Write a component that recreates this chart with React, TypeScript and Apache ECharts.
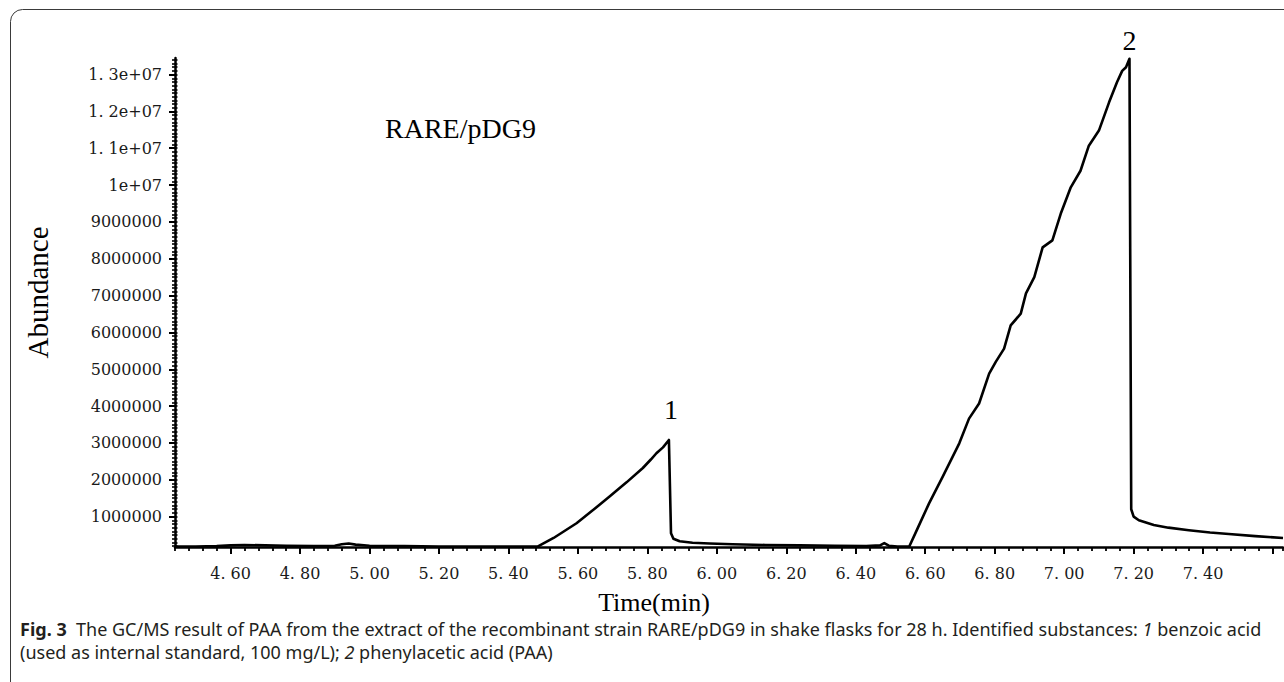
import React, { useEffect, useRef } from "react";
import * as echarts from "echarts";

// ---- data ----
const timeMin = [
  4.44, 4.5, 4.56, 4.6, 4.64, 4.7, 4.76, 4.84, 4.9, 4.92, 4.94, 4.96, 5.0, 5.1, 5.2, 5.3, 5.4,
  5.485, 5.53, 5.596, 5.64, 5.692, 5.74, 5.787, 5.81, 5.826, 5.845, 5.862,
  5.868, 5.875, 5.893, 5.93, 5.979, 6.045, 6.14, 6.238, 6.34, 6.43, 6.47, 6.482, 6.495, 6.52, 6.554,
  6.578, 6.611, 6.65, 6.698, 6.726, 6.755, 6.784, 6.803, 6.827, 6.846, 6.875, 6.89, 6.914, 6.938,
  6.966, 6.99, 7.019, 7.047, 7.071, 7.1, 7.129, 7.152, 7.167, 7.178, 7.188,
  7.193, 7.2, 7.215, 7.258, 7.3, 7.359, 7.42, 7.474, 7.55, 7.63,
];
const abundance = [
  190000, 190000, 200000, 220000, 230000, 220000, 210000, 200000, 210000, 250000, 270000, 240000, 210000, 200000, 190000, 190000, 190000,
  190000, 420000, 820000, 1150000, 1550000, 1930000, 2320000, 2550000, 2720000, 2880000, 3080000,
  550000, 400000, 330000, 290000, 270000, 250000, 230000, 220000, 210000, 200000, 220000, 280000, 210000, 190000, 190000,
  680000, 1360000, 2080000, 2990000, 3660000, 4070000, 4880000, 5200000, 5560000, 6190000, 6510000, 7060000, 7500000, 8310000,
  8500000, 9220000, 9940000, 10390000, 11070000, 11480000, 12240000, 12790000, 13100000, 13200000, 13430000,
  1200000, 1000000, 900000, 770000, 700000, 630000, 570000, 530000, 470000, 420000,
];

const peakTimes = [5.862, 7.188];
const peakValues = [3080000, 13430000];
const peakLabels = ["1", "2"];

const xTickValues = [4.6, 4.8, 5.0, 5.2, 5.4, 5.6, 5.8, 6.0, 6.2, 6.4, 6.6, 6.8, 7.0, 7.2, 7.4];
const xTickLabels = ["4. 60", "4. 80", "5. 00", "5. 20", "5. 40", "5. 60", "5. 80", "6. 00", "6. 20", "6. 40", "6. 60", "6. 80", "7. 00", "7. 20", "7. 40"];
const xMajorTicks = [4.6, 4.8, 5.0, 5.2, 5.4, 5.6, 5.8, 6.0, 6.2, 6.4, 6.6, 6.8, 7.0, 7.2, 7.4, 7.6];

const yTickValues = [1000000, 2000000, 3000000, 4000000, 5000000, 6000000, 7000000, 8000000, 9000000, 10000000, 11000000, 12000000, 13000000];
const yTickLabels = ["1000000", "2000000", "3000000", "4000000", "5000000", "6000000", "7000000", "8000000", "9000000", "1e+07", "1. 1e+07", "1. 2e+07", "1. 3e+07"];

const X_MIN = 4.44;
const X_MAX = 7.63;
const Y_MIN = 175000;
const Y_MAX = 13450000;

const yMinorTicks: number[] = [];
for (let v = 200000; v <= 13400000; v += 100000) yMinorTicks.push(v);

const SERIF = "'Liberation Serif', 'Times New Roman', serif";
const TICKFONT = "'DejaVu Serif', serif";
const CAPFONT = "'Noto Sans', 'Open Sans', sans-serif";
const CAPSIZE = 18;

export default function App() {
  const ref = useRef<HTMLDivElement>(null);
  useEffect(() => {
    if (!ref.current) return;
    const chart = echarts.init(ref.current, undefined, { renderer: "svg" });
    const trace = timeMin.map((t, i) => [t, abundance[i]]);
    const xLabelOf = (v: number) => {
      const i = xTickValues.findIndex((x) => Math.abs(x - v) < 1e-6);
      return i >= 0 ? xTickLabels[i] : "";
    };
    const yLabelOf = (v: number) => {
      const i = yTickValues.findIndex((y) => Math.abs(y - v) < 1);
      return i >= 0 ? yTickLabels[i] : "";
    };
    const option: any = {
      animation: false,
      backgroundColor: "#fff",
      grid: { left: 175, right: 1, top: 58, bottom: 135, containLabel: false },
      xAxis: [
        {
          type: "value",
          min: X_MIN,
          max: X_MAX,
          position: "bottom",
          name: "Time(min)",
          nameLocation: "middle",
          nameGap: 44,
          nameTextStyle: { fontFamily: SERIF, fontSize: 26, lineHeight: 22, color: "#000", padding: [0, 150, 0, 0] },
          axisLine: { show: true, lineStyle: { color: "#000", width: 2.5 } },
          axisTick: { show: true, customValues: xMajorTicks, length: 7, lineStyle: { color: "#000", width: 2 } },
          axisLabel: {
            show: true,
            customValues: xTickValues,
            formatter: (v: number) => xLabelOf(v),
            margin: 18,
            fontFamily: TICKFONT,
            fontSize: 16,
            color: "#1a1a1a",
          },
          splitLine: { show: false },
        },
        {
          type: "value",
          min: X_MIN,
          max: X_MAX,
          interval: 0.04,
          position: "bottom",
          offset: 0,
          axisLine: { show: false },
          axisTick: { show: true, length: 4, lineStyle: { color: "#000", width: 1.8 } },
          axisLabel: { show: false },
          splitLine: { show: false },
        },
      ],
      yAxis: [
        {
          type: "value",
          min: Y_MIN,
          max: Y_MAX,
          position: "left",
          name: "Abundance",
          nameLocation: "middle",
          nameGap: 123,
          nameTextStyle: { fontFamily: SERIF, fontSize: 29, color: "#000", padding: [0, 0, 0, 20] },
          axisLine: { show: true, lineStyle: { color: "#000", width: 2.5 } },
          axisTick: { show: true, customValues: yTickValues, length: 6, lineStyle: { color: "#000", width: 2 } },
          axisLabel: {
            show: true,
            customValues: yTickValues,
            formatter: (v: number) => yLabelOf(v),
            margin: 13,
            fontFamily: TICKFONT,
            fontSize: 16,
            color: "#1a1a1a",
          },
          splitLine: { show: false },
        },
        {
          type: "value",
          min: Y_MIN,
          max: Y_MAX,
          position: "left",
          offset: 0,
          axisLine: { show: false },
          axisTick: { show: true, customValues: yMinorTicks, length: 3, lineStyle: { color: "#000", width: 1.6 } },
          axisLabel: { show: false },
          splitLine: { show: false },
        },
        {
          type: "value",
          min: Y_MIN,
          max: Y_MAX,
          position: "left",
          offset: 0,
          axisLine: { show: false },
          axisTick: { show: true, inside: true, customValues: yMinorTicks, length: 2.5, lineStyle: { color: "#000", width: 1.6 } },
          axisLabel: { show: false },
          splitLine: { show: false },
        },
      ],
      series: [
        {
          type: "line",
          xAxisIndex: 0,
          yAxisIndex: 0,
          data: trace,
          showSymbol: false,
          symbol: "none",
          smooth: false,
          lineStyle: { color: "#000", width: 2.6, join: "round" },
          clip: false,
          markPoint: {
            symbol: "circle",
            symbolSize: 0,
            data: peakTimes.map((t, i) => ({
              coord: [t, peakValues[i]],
              value: peakLabels[i],
              label: { distance: i === 0 ? 16 : 4, offset: i === 0 ? [2, 0] : [0, 0] },
            })),
            label: {
              show: true,
              position: "top",
              formatter: (p: any) => p.value,
              fontFamily: SERIF,
              fontSize: 28,
              color: "#000",
            },
          },
        },
      ],
      graphic: [
        {
          type: "rect",
          z: -1,
          shape: { x: 10.5, y: 9.5, width: 1300, height: 700, r: 12 },
          style: { fill: "none", stroke: "#3a3a3a", lineWidth: 1 },
        },
        {
          type: "text",
          x: 385,
          y: 128,
          style: { text: "RARE/pDG9", fontFamily: SERIF, fontSize: 28, fill: "#000", verticalAlign: "middle" },
        },
        {
          type: "text",
          x: 20,
          y: 629,
          style: {
            text: "{b|Fig. 3}  The GC/MS result of PAA from the extract of the recombinant strain RARE/pDG9 in shake flasks for 28 h. Identified substances: {i|1} benzoic acid",
            fontFamily: CAPFONT,
            fontSize: CAPSIZE,
            lineHeight: 18,
            fill: "#231f20",
            verticalAlign: "middle",
            rich: {
              b: { fontFamily: CAPFONT, fontSize: CAPSIZE, lineHeight: 18, fontWeight: "bold", fill: "#231f20" },
              i: { fontFamily: CAPFONT, fontSize: CAPSIZE, lineHeight: 18, fontStyle: "italic", fill: "#231f20" },
            },
          },
        },
        {
          type: "text",
          x: 20,
          y: 652,
          style: {
            text: "(used as internal standard, 100 mg/L); {i|2} phenylacetic acid (PAA)",
            fontFamily: CAPFONT,
            fontSize: CAPSIZE,
            lineHeight: 18,
            fill: "#231f20",
            verticalAlign: "middle",
            rich: {
              i: { fontFamily: CAPFONT, fontSize: CAPSIZE, lineHeight: 18, fontStyle: "italic", fill: "#231f20" },
            },
          },
        },
      ],
    };
    chart.setOption(option);
    return () => chart.dispose();
  }, []);
  return <div ref={ref} style={{ position: "absolute", left: 0, top: 0, width: 1284, height: 682 }} />;
}
